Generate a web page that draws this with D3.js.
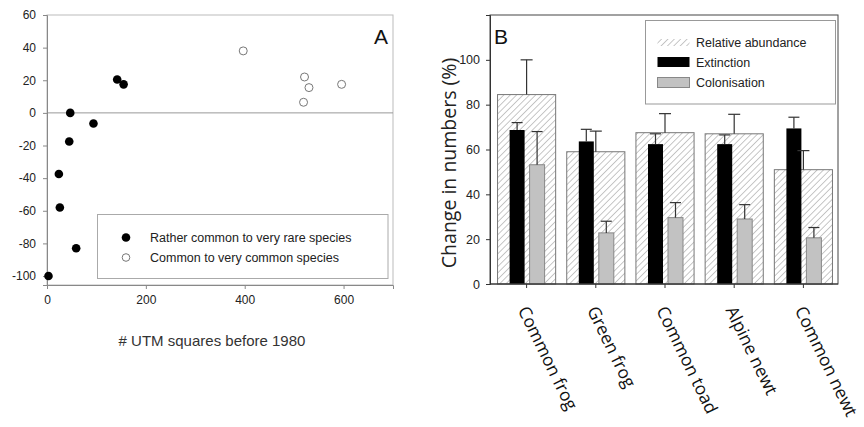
<!DOCTYPE html>
<html><head><meta charset="utf-8">
<script src="https://cdn.jsdelivr.net/npm/d3@7"></script>
<style>
body{margin:0;background:#fff;}
svg{display:block;font-family:"Liberation Sans",Arial,sans-serif;}
</style></head>
<body><svg id="c" width="864" height="427"></svg>
<script>
// ---- Panel A data ----
const rareX = [47, 94, 142, 155, 45, 24, 26, 59, 3];
const rareY = [0, -6.5, 20.5, 17.5, -17.5, -37.5, -58, -83, -100];
const commonX = [397, 521, 530, 519, 596];
const commonY = [38, 22, 15.5, 6.5, 17.5];
const aXTicks = [0, 200, 400, 600];
const aYTicks = [-100, -80, -60, -40, -20, 0, 20, 40, 60];
const aLegend = ["Rather common to very rare species", "Common to very common species"];

// ---- Panel B data ----
const categories = ["Common frog", "Green frog", "Common toad", "Alpine newt", "Common newt"];
const abundance = [84.5, 59, 67.5, 67, 51];
const abundanceErr = [15.5, 9.2, 8.5, 8.7, 8.5];
const extinction = [68.7, 63.6, 62.4, 62.4, 69.4];
const extinctionErr = [3.3, 5.4, 4.6, 4.1, 5.0];
const colonisation = [53.2, 22.8, 29.6, 29.0, 20.6];
const colonisationErr = [14.8, 5.2, 6.7, 6.4, 4.6];
const bYTicks = [0, 20, 40, 60, 80, 100];
const bLegend = ["Relative abundance", "Extinction", "Colonisation"];

const svg = d3.select("#c");
const defs = svg.append("defs");
const pat = defs.append("pattern").attr("id", "hatch").attr("patternUnits", "userSpaceOnUse")
  .attr("width", 4.5).attr("height", 4.5).attr("patternTransform", "rotate(45)");
pat.append("rect").attr("width", 4.5).attr("height", 4.5).attr("fill", "#fff");
pat.append("line").attr("x1", 0).attr("y1", 0).attr("x2", 0).attr("y2", 4.5)
  .attr("stroke", "#999").attr("stroke-width", 1.1);

const fmt = d => String(d);

// ================= Panel A =================
const ax = d3.scaleLinear().domain([0, 700]).range([47, 393]);
const ay = d3.scaleLinear().domain([-105.5, 60]).range([285, 15]);
const gA = svg.append("g");
gA.append("rect").attr("x", 47).attr("y", 15).attr("width", 346).attr("height", 270)
  .attr("fill", "none").attr("stroke", "#bbb").attr("stroke-width", 1);
gA.append("line").attr("x1", ax(0)).attr("x2", ax(700)).attr("y1", ay(0)).attr("y2", ay(0))
  .attr("stroke", "#999").attr("stroke-width", 1);
const axA = gA.append("g").attr("transform", "translate(0,285)")
  .call(d3.axisBottom(ax).tickValues(aXTicks).tickSize(4).tickPadding(6).tickFormat(fmt));
const ayA = gA.append("g").attr("transform", "translate(47,0)")
  .call(d3.axisLeft(ay).tickValues(aYTicks).tickSize(4).tickPadding(7).tickFormat(fmt));
[axA, ayA].forEach(g => {
  g.select(".domain").attr("stroke", "#888");
  g.selectAll(".tick line").attr("stroke", "#888");
  g.selectAll("text").attr("font-size", 12).attr("fill", "#222")
    .attr("font-family", "Liberation Sans, Arial, sans-serif");
});
gA.selectAll("circle.rare").data(rareX).join("circle").attr("class", "rare")
  .attr("cx", d => ax(d)).attr("cy", (d, i) => ay(rareY[i])).attr("r", 4.3).attr("fill", "#000");
gA.selectAll("circle.com").data(commonX).join("circle").attr("class", "com")
  .attr("cx", d => ax(d)).attr("cy", (d, i) => ay(commonY[i])).attr("r", 4)
  .attr("fill", "#fff").attr("stroke", "#777").attr("stroke-width", 1);
gA.append("text").attr("x", 381).attr("y", 44).attr("text-anchor", "middle")
  .attr("font-size", 21).attr("fill", "#111").text("A");
gA.append("rect").attr("x", 97.5).attr("y", 214.5).attr("width", 290.5).attr("height", 64)
  .attr("fill", "#fff").attr("stroke", "#aaa").attr("stroke-width", 1);
aLegend.forEach((t, i) => {
  const y = 237.5 + i * 20;
  gA.append("circle").attr("cx", 126).attr("cy", y).attr("r", i ? 3.8 : 4.3)
    .attr("fill", i ? "#fff" : "#000").attr("stroke", i ? "#777" : "none");
  gA.append("text").attr("x", 150).attr("y", y + 4.5).attr("font-size", 12.5).attr("fill", "#222").text(t);
});
gA.append("text").attr("x", 212).attr("y", 346).attr("text-anchor", "middle")
  .attr("font-size", 15).attr("fill", "#333").text("# UTM squares before 1980");

// ================= Panel B =================
const bx = d3.scaleBand().domain(categories).range([492, 838]).padding(0);
const sub = d3.scaleBand().domain(["ext", "col"]).range([-17, 18]).paddingInner(0.25);
const by = d3.scaleLinear().domain([0, 120]).range([284, 15]);
const gB = svg.append("g");
const hw = bx.bandwidth() * 0.84;
const cx = c => bx(c) + bx.bandwidth() / 2;

gB.selectAll("rect.ab").data(categories).join("rect").attr("class", "ab")
  .attr("x", d => cx(d) - hw / 2).attr("width", hw)
  .attr("y", (d, i) => by(abundance[i])).attr("height", (d, i) => by(0) - by(abundance[i]))
  .attr("fill", "url(#hatch)").attr("stroke", "#777").attr("stroke-width", 1);
gB.selectAll("rect.ex").data(categories).join("rect").attr("class", "ex")
  .attr("x", d => cx(d) + sub("ext")).attr("width", sub.bandwidth())
  .attr("y", (d, i) => by(extinction[i])).attr("height", (d, i) => by(0) - by(extinction[i]))
  .attr("fill", "#000");
gB.selectAll("rect.co").data(categories).join("rect").attr("class", "co")
  .attr("x", d => cx(d) + sub("col")).attr("width", sub.bandwidth())
  .attr("y", (d, i) => by(colonisation[i])).attr("height", (d, i) => by(0) - by(colonisation[i]))
  .attr("fill", "#c2c2c2").attr("stroke", "#888").attr("stroke-width", 1);

function errBars(xs, vals, errs, cap) {
  const g = gB.append("g").attr("stroke", "#333").attr("stroke-width", 1.2).attr("fill", "none");
  categories.forEach((c, i) => {
    const x = xs(c), y0 = by(vals[i]), y1 = by(vals[i] + errs[i]);
    g.append("line").attr("x1", x).attr("x2", x).attr("y1", y0).attr("y2", y1);
    g.append("line").attr("x1", x - cap / 2).attr("x2", x + cap / 2).attr("y1", y1).attr("y2", y1);
  });
}
errBars(c => cx(c), abundance, abundanceErr, 12);
errBars(c => cx(c) + sub("ext") + sub.bandwidth() / 2, extinction, extinctionErr, 11);
errBars(c => cx(c) + sub("col") + sub.bandwidth() / 2, colonisation, colonisationErr, 11);

gB.append("rect").attr("x", 490).attr("y", 15).attr("width", 348).attr("height", 269)
  .attr("fill", "none").attr("stroke", "#444").attr("stroke-width", 1);
const byAx = gB.append("g").attr("transform", "translate(490,0)")
  .call(d3.axisLeft(by).tickValues(bYTicks).tickSize(4).tickPadding(6).tickFormat(fmt));
byAx.select(".domain").attr("stroke", "#333");
byAx.selectAll(".tick line").attr("stroke", "#333");
byAx.selectAll("text").attr("font-size", 12.5).attr("fill", "#222")
  .attr("font-family", "Liberation Sans, Arial, sans-serif");
const bxAx = gB.append("g").attr("transform", "translate(0,284)")
  .call(d3.axisBottom(bx).tickSize(4).tickFormat(""));
bxAx.select(".domain").remove();
bxAx.selectAll(".tick line").attr("stroke", "#333");
gB.append("line").attr("x1", 490).attr("x2", 838).attr("y1", 284).attr("y2", 284).attr("stroke", "#333");

gB.selectAll("text.cat").data(categories).join("text").attr("class", "cat")
  .attr("transform", d => `translate(${cx(d) - 9},${310}) rotate(64)`)
  .attr("font-family", "Open Sans, sans-serif").attr("font-size", 17.5).attr("fill", "#111")
  .text(d => d);
gB.append("text").attr("transform", "translate(456,163) rotate(-90)").attr("text-anchor", "middle")
  .attr("font-family", "Open Sans, sans-serif").attr("font-size", 19.5).attr("fill", "#222")
  .text("Change in numbers (%)");
gB.append("text").attr("x", 501).attr("y", 44).attr("text-anchor", "middle")
  .attr("font-size", 21).attr("fill", "#111").text("B");

gB.append("rect").attr("x", 645.5).attr("y", 20.5).attr("width", 190).attr("height", 83.5)
  .attr("fill", "#fff").attr("stroke", "#999").attr("stroke-width", 1);
const lsw = [{f: "url(#hatch)", s: "none", y: 39, h: 7}, {f: "#000", s: "none", y: 57, h: 10}, {f: "#c2c2c2", s: "#888", y: 77.5, h: 10}];
bLegend.forEach((t, i) => {
  const s = lsw[i];
  gB.append("rect").attr("x", 657.5).attr("y", s.y).attr("width", 32).attr("height", s.h)
    .attr("fill", s.f).attr("stroke", s.s);
  gB.append("text").attr("x", 696).attr("y", [47, 66.5, 86.5][i]).attr("font-size", 12.5)
    .attr("fill", "#222").text(t);
});
</script></body></html>
